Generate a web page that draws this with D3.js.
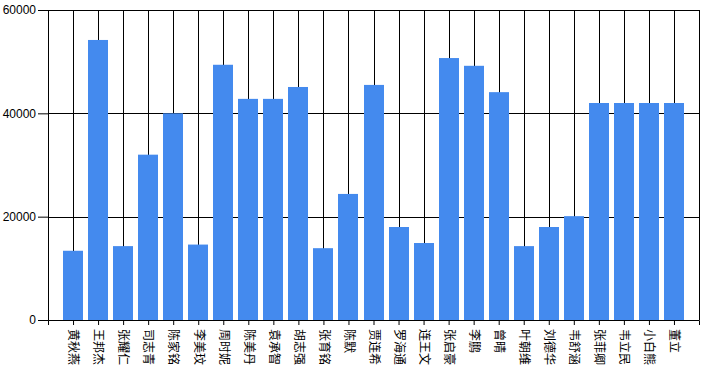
<!DOCTYPE html>
<html>
<head>
<meta charset="utf-8">
<script src="https://cdn.jsdelivr.net/npm/d3@7/dist/d3.min.js"></script>
<style>
  body { margin: 0; background: #fff; }
  .chart text { fill: #000; }
</style>
</head>
<body>
<div class="container"></div>
<script>
const names = ["黄秋燕", "王邦杰", "张耀仁", "司志青", "陈家铭", "李美玟", "周时妮", "陈美丹", "袁承智",
  "胡志强", "张育铭", "陈默", "贾连希", "罗海通", "连王文", "张启豪", "李鹏", "曾晴", "叶朝维",
  "刘德华", "韦舒涵", "张菲卿", "韦立民", "小白熊", "董立"];
const amounts = [13400, 54200, 14300, 32000, 40000, 14600, 49400, 42800, 42800,
  45100, 13900, 24400, 45500, 18000, 14900, 50700, 49200, 44100, 14300,
  18000, 20100, 42000, 42000, 42000, 42000];
const yTicks = [0, 20000, 40000, 60000];

const margin = { top: 10, right: 23, bottom: 53, left: 48 };
let w = 722 - margin.left - margin.right,
    h = 373 - margin.top - margin.bottom;

const data = names.map((n, i) => ({ name: n, value: amounts[i] }));

let svg = d3.select(".container").append("svg")
  .attr("class", "chart")
  .attr("width", w + margin.left + margin.right)
  .attr("height", h + margin.top + margin.bottom)
  .append("g")
  .attr("transform", "translate(" + margin.left + "," + margin.top + ")");

const xScale = d3.scalePoint().domain(names).range([0, w]).padding(1);
const yScale = d3.scaleLinear().domain([0, 60000]).range([h, 0]);
const barW = 20;

//Grid lines, vertical through every category and horizontal at the ticks
svg.selectAll(".vgrid").data(names).enter().append("line")
  .attr("x1", d => Math.round(xScale(d)) + 0.5).attr("x2", d => Math.round(xScale(d)) + 0.5)
  .attr("y1", 0).attr("y2", h)
  .attr("stroke", "#000");
svg.selectAll(".hgrid").data(yTicks.slice(1)).enter().append("line")
  .attr("x1", 0).attr("x2", w)
  .attr("y1", d => Math.round(yScale(d)) + 0.5).attr("y2", d => Math.round(yScale(d)) + 0.5)
  .attr("stroke", "#000");
//right border
svg.append("line").attr("x1", w + 0.5).attr("x2", w + 0.5).attr("y1", 0).attr("y2", h)
  .attr("stroke", "#000");

//Bars
svg.selectAll(".bar").data(data).enter().append("rect")
  .attr("class", "bar")
  .attr("x", d => Math.round(xScale(d.name) - barW / 2))
  .attr("y", d => yScale(d.value))
  .attr("width", barW)
  .attr("height", d => h - yScale(d.value))
  .attr("fill", "#448aee");

//Axes
const yAxis = d3.axisLeft(yScale).tickValues(yTicks).tickFormat(d3.format("d")).tickSize(10).tickPadding(2);
const gy = svg.append("g").attr("id", "y-axis").call(yAxis);
gy.selectAll("text").style("font-family", "'Liberation Sans', Arial, sans-serif").style("font-size", "12px");
gy.selectAll("path, line").attr("stroke", "#000");

const xAxis = d3.axisBottom(xScale).tickSize(5).tickSizeOuter(5);
const gx = svg.append("g").attr("id", "x-axis").attr("transform", "translate(0," + h + ")").call(xAxis);
gx.selectAll("path, line").attr("stroke", "#000");
gx.selectAll("text")
  .style("font-family", "'Noto Sans CJK SC', sans-serif").style("font-size", "12px")
  .attr("transform", "rotate(90)")
  .attr("x", 9).attr("y", 0).attr("dy", "0.35em")
  .style("text-anchor", "start");
</script>
</body>
</html>
